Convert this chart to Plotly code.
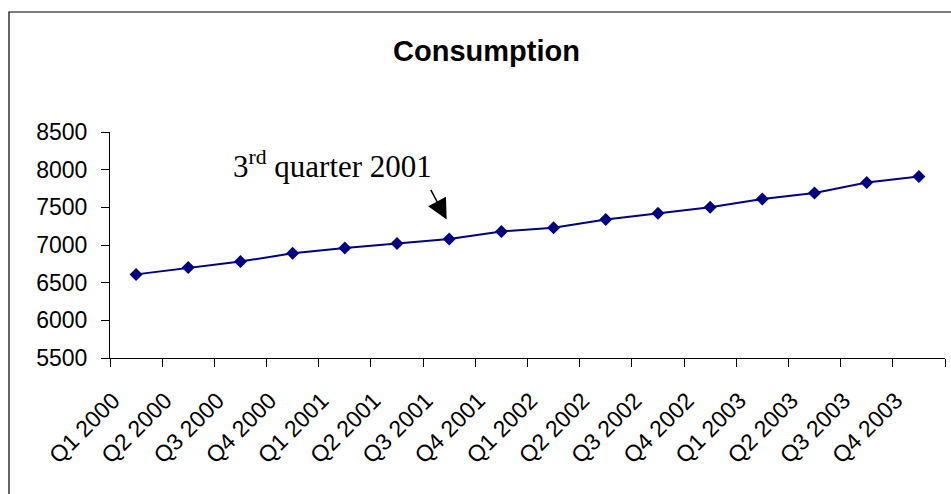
import plotly.graph_objects as go

# Quarterly consumption series
quarters = [
    "Q1 2000", "Q2 2000", "Q3 2000", "Q4 2000",
    "Q1 2001", "Q2 2001", "Q3 2001", "Q4 2001",
    "Q1 2002", "Q2 2002", "Q3 2002", "Q4 2002",
    "Q1 2003", "Q2 2003", "Q3 2003", "Q4 2003",
]
consumption = [
    6610, 6700, 6780, 6890,
    6960, 7020, 7080, 7180,
    7230, 7340, 7420, 7500,
    7610, 7690, 7830, 7910,
]
y_ticks = [5500, 6000, 6500, 7000, 7500, 8000, 8500]

W, H = 951, 494
L, R, T, B = 110, 6, 132, 136
plot_w = W - L - R
plot_h = H - T - B

SANS = "Arial, Liberation Sans, sans-serif"
SERIF = "Times New Roman, Liberation Serif, serif"
NAVY = "#000080"

fig = go.Figure()
fig.add_trace(go.Scatter(
    x=quarters,
    y=consumption,
    mode="lines+markers",
    line=dict(color=NAVY, width=2),
    marker=dict(symbol="diamond", size=10, color=NAVY),
    showlegend=False,
    hoverinfo="x+y",
))

# Callout text and arrow for the 3rd quarter of 2001
fig.add_annotation(
    x=3.754, y=8065, xref="x", yref="y",
    text="3<sup>rd</sup> quarter 2001",
    showarrow=False,
    font=dict(family=SERIF, size=31, color="black"),
    xanchor="center", yanchor="middle",
)
fig.add_annotation(
    x=5.951, y=7340, xref="x", yref="y",
    text="",
    showarrow=True,
    arrowhead=2, arrowsize=2.7, arrowwidth=1.5, arrowcolor="black",
    ax=-16.7, ay=-31,
)

# Outer chart frame
fig.add_shape(
    type="rect", xref="paper", yref="paper",
    x0=(9 - L) / plot_w, x1=(W + 20 - L) / plot_w,
    y0=(T + plot_h - (H + 20)) / plot_h, y1=(T + plot_h - 12) / plot_h,
    line=dict(color="black", width=1.2), fillcolor="rgba(0,0,0,0)",
    layer="below",
)

fig.update_layout(
    width=W, height=H,
    margin=dict(l=L, r=R, t=T, b=B),
    paper_bgcolor="white",
    plot_bgcolor="white",
    title=dict(
        text="<b>Consumption</b>",
        font=dict(family=SANS, size=29, color="black"),
        x=(486.5 - L) / plot_w, xref="paper", xanchor="center",
        y=1 - 51 / H, yref="container", yanchor="middle",
    ),
    xaxis=dict(
        type="category",
        tickangle=-45,
        tickson="boundaries",
        ticks="outside", ticklen=8, tickcolor="black", tickwidth=1,
        showline=True, linecolor="black", linewidth=1,
        showgrid=False, zeroline=False,
        tickfont=dict(family=SANS, size=23, color="black"),
        ticklabelstandoff=19,
        ticklabelshift=-23,
        range=[-0.5, len(quarters) - 0.5],
    ),
    yaxis=dict(
        range=[5500, 8500],
        tickvals=y_ticks,
        ticks="outside", ticklen=8, tickcolor="black", tickwidth=1,
        showline=True, linecolor="black", linewidth=1,
        showgrid=False, zeroline=False,
        tickfont=dict(family=SANS, size=23, color="black"),
        ticklabelstandoff=9,
    ),
)

fig.write_html("out.html")
